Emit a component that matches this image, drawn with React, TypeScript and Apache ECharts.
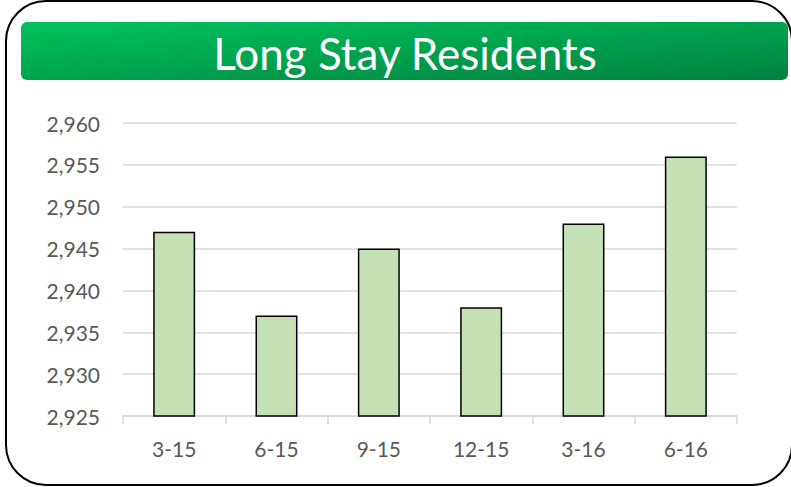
import React, { useEffect, useRef } from "react";
import * as echarts from "echarts";

const categories = ["3-15", "6-15", "9-15", "12-15", "3-16", "6-16"];
const residents = [2947, 2937, 2945, 2938, 2948, 2956];
const yMin = 2925;
const yMax = 2960;
const yStep = 5;

export default function App() {
  const ref = useRef<HTMLDivElement>(null);
  useEffect(() => {
    if (!ref.current) return;
    const chart = echarts.init(ref.current, null, { renderer: "svg" });
    const font = "Lato, 'Open Sans', sans-serif";
    chart.setOption({
      animation: false,
      backgroundColor: "#ffffff",
      graphic: [
        {
          type: "rect",
          z: 0,
          shape: { x: 6, y: 1, width: 786, height: 484, r: 40 },
          style: { fill: "#ffffff", stroke: "#000000", lineWidth: 2 },
        },
        {
          type: "rect",
          z: 1,
          shape: { x: 21, y: 22, width: 767, height: 58, r: 6 },
          style: {
            fill: new echarts.graphic.LinearGradient(0, 0, 1, 1, [
              { offset: 0, color: "#00C35E" },
              { offset: 1, color: "#00823F" },
            ]),
          },
        },
        {
          type: "text",
          z: 5,
          x: 405,
          y: 53,
          style: {
            text: "Long Stay Residents",
            fill: "#ffffff",
            fontSize: 44,
            fontFamily: font,
            textAlign: "center",
            textVerticalAlign: "middle",
          },
        },
      ],
      grid: { left: 123, right: 54, top: 123, bottom: 71 },
      xAxis: {
        type: "category",
        data: categories,
        axisLine: { lineStyle: { color: "#d9d9d9", width: 1.5 } },
        axisTick: { show: true, length: 8, lineStyle: { color: "#d9d9d9", width: 1.5 } },
        axisLabel: { color: "#595959", fontSize: 21, fontFamily: font, margin: 22 },
      },
      yAxis: {
        type: "value",
        min: yMin,
        max: yMax,
        interval: yStep,
        axisLine: { show: false },
        axisTick: { show: false },
        splitLine: { lineStyle: { color: "#d9d9d9", width: 1.5 } },
        axisLabel: {
          color: "#595959",
          fontSize: 21,
          fontFamily: font,
          margin: 23,
          formatter: (v: number) => v.toLocaleString("en-US"),
        },
      },
      series: [
        {
          type: "bar",
          data: residents,
          barWidth: "41%",
          itemStyle: { color: "#C5E0B4", borderColor: "#000000", borderWidth: 1.5 },
        },
      ],
    });
    return () => chart.dispose();
  }, []);
  return (
    <div
      ref={ref}
      style={{ position: "absolute", left: 0, top: 0, width: 791, height: 487 }}
    />
  );
}
